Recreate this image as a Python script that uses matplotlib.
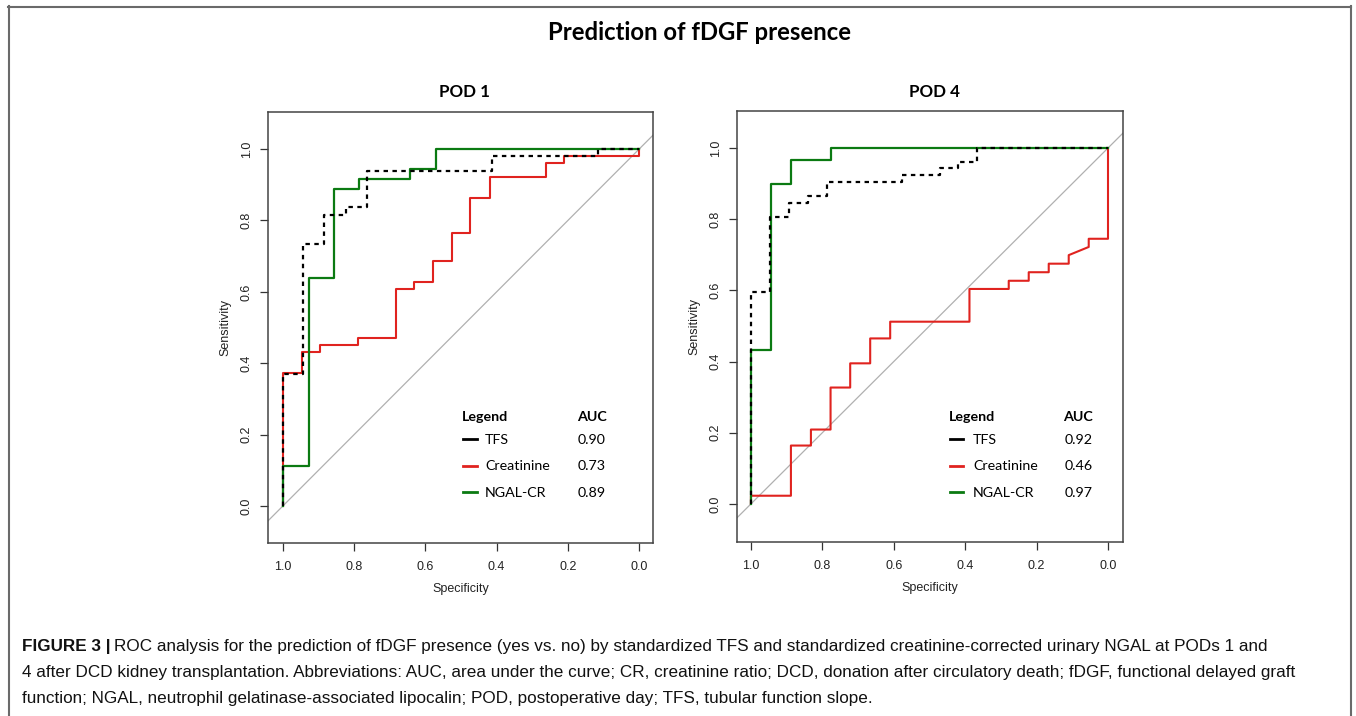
import matplotlib
matplotlib.use('Agg')
import matplotlib.pyplot as plt
from matplotlib.lines import Line2D

# ---------------- data (specificity, sensitivity) ----------------
pod1_tfs_spec = [1.0, 1.0, 0.945, 0.945, 0.884, 0.884, 0.823, 0.823, 0.765, 0.765, 0.414, 0.414, 0.116, 0.116, 0.0]
pod1_tfs_sens = [0.0, 0.37, 0.37, 0.735, 0.735, 0.816, 0.816, 0.837, 0.837, 0.939, 0.939, 0.98, 0.98, 1.0, 1.0]

pod1_cr_spec = [1.0, 1.0, 0.947, 0.947, 0.895, 0.895, 0.788, 0.788, 0.684, 0.684, 0.631, 0.631, 0.579, 0.579,
                0.526, 0.526, 0.474, 0.474, 0.420, 0.420, 0.262, 0.262, 0.210, 0.210, 0.0, 0.0]
pod1_cr_sens = [0.0, 0.373, 0.373, 0.432, 0.432, 0.451, 0.451, 0.471, 0.471, 0.608, 0.608, 0.628, 0.628, 0.687,
                0.687, 0.766, 0.766, 0.864, 0.864, 0.922, 0.922, 0.962, 0.962, 0.981, 0.981, 1.0]

pod1_ngal_spec = [1.0, 1.0, 0.928, 0.928, 0.858, 0.858, 0.786, 0.786, 0.642, 0.642, 0.571, 0.571, 0.0]
pod1_ngal_sens = [0.0, 0.112, 0.112, 0.639, 0.639, 0.889, 0.889, 0.917, 0.917, 0.944, 0.944, 1.0, 1.0]

pod4_tfs_spec = [1.0, 1.0, 0.946, 0.946, 0.894, 0.894, 0.839, 0.839, 0.787, 0.787, 0.577, 0.577, 0.471, 0.471,
                 0.419, 0.419, 0.367, 0.367, 0.0]
pod4_tfs_sens = [0.0, 0.595, 0.595, 0.806, 0.806, 0.846, 0.846, 0.865, 0.865, 0.904, 0.904, 0.923, 0.923, 0.943,
                 0.943, 0.962, 0.962, 1.0, 1.0]

pod4_cr_spec = [1.0, 1.0, 0.888, 0.888, 0.832, 0.832, 0.777, 0.777, 0.722, 0.722, 0.666, 0.666, 0.610, 0.610,
                0.388, 0.388, 0.278, 0.278, 0.222, 0.222, 0.166, 0.166, 0.110, 0.110, 0.054, 0.054, 0.0, 0.0]
pod4_cr_sens = [0.0, 0.023, 0.023, 0.164, 0.164, 0.209, 0.209, 0.327, 0.327, 0.395, 0.395, 0.465, 0.465, 0.512,
                0.512, 0.604, 0.604, 0.627, 0.627, 0.651, 0.651, 0.675, 0.675, 0.699, 0.722, 0.745, 0.745, 1.0]

pod4_ngal_spec = [1.0, 1.0, 0.944, 0.944, 0.888, 0.888, 0.777, 0.777, 0.0]
pod4_ngal_sens = [0.0, 0.433, 0.433, 0.900, 0.900, 0.965, 0.965, 1.0, 1.0]

legend_names = ["TFS", "Creatinine", "NGAL-CR"]
pod1_auc = ["0.90", "0.73", "0.89"]
pod4_auc = ["0.92", "0.46", "0.97"]
tick_vals = [1.0, 0.8, 0.6, 0.4, 0.2, 0.0]
tick_labels = ["1.0", "0.8", "0.6", "0.4", "0.2", "0.0"]

title = "Prediction of fDGF presence"
panel_titles = ["POD 1", "POD 4"]
caption_bold = "FIGURE 3 |"
caption_lines = [
    "ROC analysis for the prediction of fDGF presence (yes vs. no) by standardized TFS and standardized creatinine-corrected urinary NGAL at PODs 1 and",
    "4 after DCD kidney transplantation. Abbreviations: AUC, area under the curve; CR, creatinine ratio; DCD, donation after circulatory death; fDGF, functional delayed graft",
    "function; NGAL, neutrophil gelatinase-associated lipocalin; POD, postoperative day; TFS, tubular function slope.",
]

# ---------------- styling ----------------
W, H = 1356, 716
RED = '#e0231f'
GREEN = '#0b7a12'
SANS = ['Liberation Sans', 'DejaVu Sans']
CAL = ['Lato', 'DejaVu Sans']
NARROW = ['Liberation Sans Narrow', 'Liberation Sans', 'DejaVu Sans']

fig = plt.figure(figsize=(W / 100, H / 100), dpi=100)
fig.patch.set_facecolor('white')


def fx(x):
    return x / W


def fy(y):
    return 1 - y / H


# border
for xs, ys in [((8.5, 8.5), (6, 716)), ((8, 1351), (6.5, 6.5)), ((1350.5, 1350.5), (6, 716))]:
    fig.add_artist(Line2D([fx(v) for v in xs], [fy(v) for v in ys], color='#6a6a6a', lw=1.5,
                          transform=fig.transFigure))

fig.text(fx(700), fy(32), title, ha='center', va='center', fontsize=17.2, fontweight='bold', family=CAL)

panels = [
    dict(rect=(268, 112, 653, 543), xlim=(1.042, -0.039), ylim=(-0.104, 1.104),
         tfs=(pod1_tfs_spec, pod1_tfs_sens), cr=(pod1_cr_spec, pod1_cr_sens), ngal=(pod1_ngal_spec, pod1_ngal_sens),
         auc=pod1_auc, leg_x=462, line_x=(463, 477), name_x=485, auc_x=577, val_x=578, title=panel_titles[0]),
    dict(rect=(737, 111, 1123, 542), xlim=(1.039, -0.042), ylim=(-0.107, 1.104),
         tfs=(pod4_tfs_spec, pod4_tfs_sens), cr=(pod4_cr_spec, pod4_cr_sens), ngal=(pod4_ngal_spec, pod4_ngal_sens),
         auc=pod4_auc, leg_x=949, line_x=(950, 963), name_x=973, auc_x=1063, val_x=1065, title=panel_titles[1]),
]

for p in panels:
    x0, y0, x1, y1 = p['rect']
    ax = fig.add_axes([fx(x0), fy(y1), (x1 - x0) / W, (y1 - y0) / H])
    ax.set_xlim(*p['xlim'])
    ax.set_ylim(*p['ylim'])
    ax.axline((1, 0), (0, 1), color='#b0b0b0', lw=0.9, zorder=1)
    ax.plot(*p['cr'], color=RED, lw=1.5, zorder=2)
    ax.plot(*p['ngal'], color=GREEN, lw=1.6, zorder=3)
    ax.plot(*p['tfs'], color='black', lw=1.6, ls=(0, (2.0, 2.0)), zorder=4)
    ax.set_xticks(tick_vals)
    ax.set_xticklabels(tick_labels, family=SANS, fontsize=9, color='#222222')
    ax.set_yticks(tick_vals)
    ax.set_yticklabels(tick_labels, family=SANS, fontsize=9, color='#222222', rotation=90, va='center')
    ax.tick_params(axis='both', direction='out', length=6, width=0.9, color='#333333')
    ax.tick_params(axis='x', pad=7)
    ax.tick_params(axis='y', pad=5)
    for s in ax.spines.values():
        s.set_color('#444444')
        s.set_linewidth(1.1)
    ax.set_xlabel('Specificity', family=SANS, fontsize=9, color='#222222', labelpad=7)
    ax.set_ylabel('Sensitivity', family=SANS, fontsize=9, color='#222222', labelpad=7)
    fig.text(fx((x0 + x1) / 2 + 4), fy(92), p['title'], ha='center', va='center', fontsize=12.2,
             fontweight='bold', family=CAL)

    # legend
    fig.text(fx(p['leg_x']), fy(417), 'Legend', ha='left', va='center', fontsize=10.3, fontweight='bold', family=CAL)
    fig.text(fx(p['auc_x']), fy(417), 'AUC', ha='left', va='center', fontsize=10.3, fontweight='bold', family=CAL)
    for i, (name, col) in enumerate(zip(legend_names, ['black', RED, GREEN])):
        yy = 440 + i * 26.5
        fig.add_artist(Line2D([fx(p['line_x'][0]), fx(p['line_x'][1])], [fy(yy - 1), fy(yy - 1)],
                              color=col, lw=2, transform=fig.transFigure))
        fig.text(fx(p['name_x']), fy(yy), name, ha='left', va='center', fontsize=10.3, family=CAL)
        fig.text(fx(p['val_x']), fy(yy), p['auc'][i], ha='left', va='center', fontsize=10.3, family=CAL)

# caption
renderer = fig.canvas.get_renderer()
probe = fig.text(0, 0, caption_lines[1], fontsize=12, family=NARROW)
wpx = probe.get_window_extent(renderer).width
probe.remove()
cap_size = 12 * (1294 - 22) / wpx

tb = fig.text(fx(22), fy(646), caption_bold, ha='left', va='center', fontsize=cap_size,
              fontweight='bold', family=NARROW, color='#111111')
bw = tb.get_window_extent(renderer).width
fig.text(fx(22 + bw + 3), fy(646), caption_lines[0], ha='left', va='center', fontsize=cap_size,
         family=NARROW, color='#111111')
fig.text(fx(22), fy(672), caption_lines[1], ha='left', va='center', fontsize=cap_size, family=NARROW, color='#111111')
fig.text(fx(22), fy(699), caption_lines[2], ha='left', va='center', fontsize=cap_size, family=NARROW, color='#111111')

fig.savefig('out.png', dpi=100, facecolor='white')
